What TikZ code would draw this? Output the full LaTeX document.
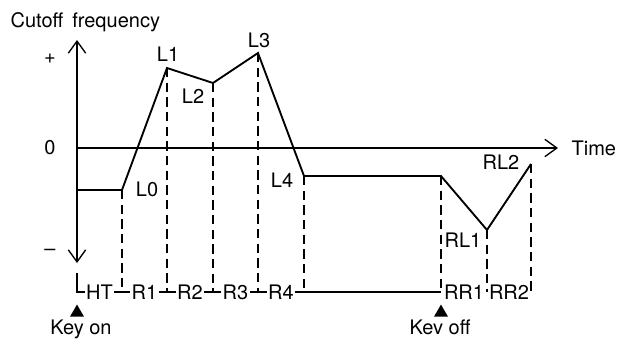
\documentclass[tikz,border=0pt]{standalone}
\usepackage{fontspec}
\newfontfamily\heros{TeX Gyre Heros}
\usetikzlibrary{arrows.meta,shapes.geometric}
\newcommand{\envfont}{\heros\fontsize{15pt}{17pt}\selectfont}
\tikzset{
  axtip/.tip={Straight Barb[length=9pt,width=13pt,line width=1pt]},
  lbl/.style={font=\envfont, inner sep=1pt},
  segl/.style={lbl, fill=white},
  env/.style={line width=1.4pt, line join=miter},
  guide/.style={line width=0.9pt, dash pattern=on 7pt off 4pt},
  axis/.style={line width=1pt},
  keymark/.style={regular polygon, regular polygon sides=3, fill, inner sep=0pt, minimum size=12pt},
}
\begin{document}
\begin{tikzpicture}[x=0.75pt,y=-0.75pt]
\useasboundingbox (0,0) rectangle (619,339);
% axes
\coordinate (ytop) at (77,40);
\coordinate (ybot) at (77,263);
\coordinate (org) at (77,148);
\coordinate (xend) at (558,148);
\draw[axis, axtip-axtip] (ybot) -- (ytop);
\draw[axis, -axtip] (org) -- (xend);
\node[lbl, anchor=base west] (ylab) at (9,27) {Cutoff\hspace{0.45em}frequency};
\node[lbl, anchor=west] (time) at ([xshift=9pt]xend) {Time};
\node[lbl] (plus) at (50,59) {+};
\node[lbl] (zero) at (50,148) {0};
\node[lbl] (minus) at (50,252) {–};
% envelope
\coordinate (s0) at (77,190);
\coordinate (l0) at (122,190);
\coordinate (l1) at (167,68);
\coordinate (l2) at (213,83);
\coordinate (l3) at (258,53);
\coordinate (l4) at (304,176);
\coordinate (koff) at (441,176);
\coordinate (rl1) at (487,230);
\coordinate (rl2) at (531,164);
\draw[env] (s0) -- (l0) -- (l1) -- (l2) -- (l3) -- (l4) -- (koff) -- (rl1) -- (rl2);
\node[lbl] (nl0) at (147,189) {L0};
\node[lbl] (nl1) at (168,54) {L1};
\node[lbl] (nl2) at (193,96) {L2};
\node[lbl] (nl3) at (259,40) {L3};
\node[lbl] (nl4) at (282,180) {L4};
\node[lbl] (nrl1) at (463,240) {RL1};
\node[lbl] (nrl2) at (501,162) {RL2};
% time segments
\coordinate (base) at (77,292);
\coordinate (corner) at (77,273);
\foreach \p in {l0,l1,l2,l3,l4,koff,rl1,rl2}
  \draw[guide] (\p) -- (\p |- base);
\draw[axis] (corner) -- (base) -- (koff |- base);
\foreach \a/\b/\t in {s0/l0/HT, l0/l1/R1, l1/l2/R2, l2/l3/R3, l3/l4/R4, koff/rl1/RR1, rl1/rl2/RR2}
  \path (\a |- base) -- node[segl] (seg\t) {\t} (\b |- base);
% key events
\node[keymark, anchor=north] (kon) at (77,304) {};
\node[keymark, anchor=north] (koffm) at (441,304) {};
\node[lbl, anchor=base] (konl) at (81,334) {Key on};
\node[lbl, anchor=base] (koffl) at (440,334) {Kev off};
\end{tikzpicture}
\end{document}
